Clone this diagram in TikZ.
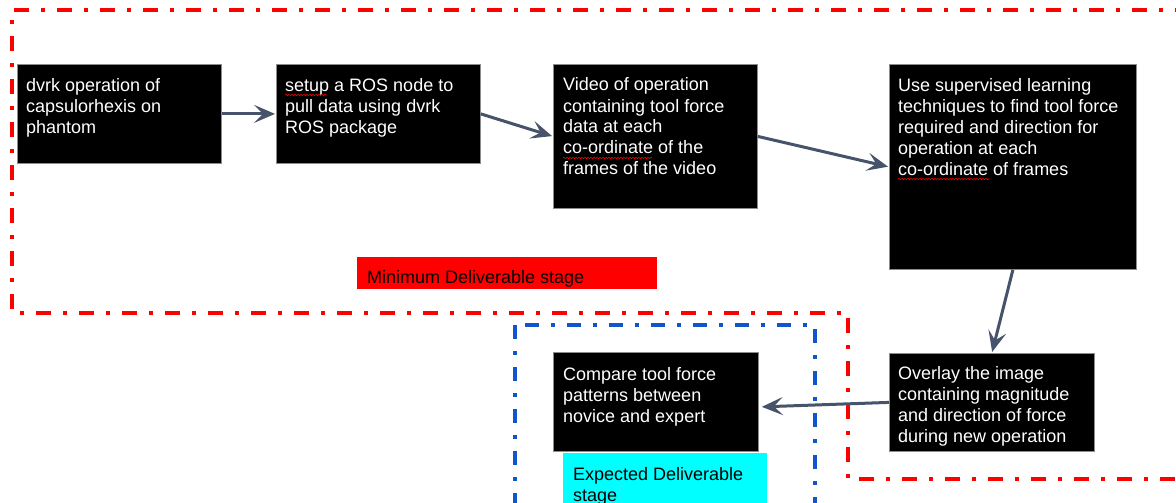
\documentclass[tikz,border=0pt]{standalone}
\usepackage{fontspec}
\setmainfont{Liberation Sans}
\usetikzlibrary{arrows.meta,decorations.pathmorphing}
\definecolor{arrowc}{HTML}{46536B}
\definecolor{blueb}{HTML}{1155CC}
\definecolor{redb}{HTML}{FF0000}
\definecolor{cyanb}{HTML}{00FFFF}
\newcommand\toplines[1]{\begin{tabular}[t]{@{}l@{}}#1\end{tabular}}
\begin{document}
\begin{tikzpicture}[x=1pt,y=-1pt,
  box/.style={draw=black!45, line width=0.8pt, fill=black, inner sep=0pt, anchor=north west},
  txt/.style={text=white, font=\fontsize{18}{21}\selectfont, inner sep=0pt, anchor=base west},
  lbltxt/.style={text=black, font=\fontsize{18}{21}\selectfont, inner sep=0pt, anchor=base west},
  arr/.style={draw=arrowc, line width=3pt, shorten >=1pt, -{Stealth[length=21pt,width=18pt,inset=9pt]}},
  redframe/.style={draw=redb, line width=4pt, dash pattern=on 15pt off 12pt on 4pt off 12pt},
  blueframe/.style={draw=blueb, line width=3.5pt, dash pattern=on 14pt off 12pt on 4pt off 12pt},
  spell/.style={draw=redb, line width=0.6pt, decorate, decoration={snake, amplitude=0.7pt, segment length=3pt}}
]
\clip (0,0) rectangle (1176,503);
\fill[white] (0,0) rectangle (1176,503);

% frames
\draw[redframe] (1190,10) -- (12,10) -- (12,313) -- (848,313) -- (848,479) -- (1190,479);
\draw[blueframe] (515,325) rectangle (815,520);

% boxes
\node[box, minimum width=204pt, minimum height=99pt] (b1) at (17,64) {};
\node[box, minimum width=204pt, minimum height=99pt] (b2) at (276,64) {};
\node[box, minimum width=204pt, minimum height=144pt] (b3) at (553,64) {};
\node[box, minimum width=247pt, minimum height=205pt] (b4) at (889,64) {};
\node[box, minimum width=205pt, minimum height=98pt] (b5) at (889,353) {};
\node[box, minimum width=205pt, minimum height=99pt] (b6) at (553,352) {};

% labels
\node[draw=none, fill=redb, inner sep=0pt, anchor=north west, minimum width=300pt, minimum height=32pt] (lmin) at (357,257) {};
\node[draw=none, fill=cyanb, inner sep=0pt, anchor=north west, minimum width=204pt, minimum height=60pt] (lexp) at (563,453) {};

% texts
\node[txt] (t1) at ([xshift=9pt,yshift=-28pt]b1.north west) {\toplines{dvrk operation of\\capsulorhexis on\\phantom}};
\node[txt] (t2) at ([xshift=9pt,yshift=-28pt]b2.north west) {\toplines{setup a ROS node to\\pull data using dvrk\\ROS package}};
\node[txt] (t3) at ([xshift=10pt,yshift=-27pt]b3.north west) {\toplines{Video of operation\\containing tool force\\data at each\\co-ordinate of the\\frames of the video}};
\node[txt] (t4) at ([xshift=9pt,yshift=-28pt]b4.north west) {\toplines{Use supervised learning\\techniques to find tool force\\required and direction for\\operation at each\\co-ordinate of frames}};
\node[txt] (t5) at ([xshift=9pt,yshift=-26pt]b5.north west) {\toplines{Overlay the image\\containing magnitude\\and direction of force\\during new operation}};
\node[txt] (t6) at ([xshift=10pt,yshift=-28pt]b6.north west) {\toplines{Compare tool force\\patterns between\\novice and expert}};
\node[lbltxt] (tmin) at ([xshift=10pt,yshift=-26pt]lmin.north west) {Minimum Deliverable stage};
\node[lbltxt] (texp) at ([xshift=10pt,yshift=-27pt]lexp.north west) {\toplines{Expected Deliverable\\stage}};

% spell-check underlines
\path[spell] (285,95) -- (327,95);
\path[spell] (563,158) -- (652,158);
\path[spell] (898,179) -- (989,179);

% connectors
\draw[arr] (b1.east) -- (b2.west);
\draw[arr] (b2.east) -- (b3.west);
\draw[arr] (b3.east) -- (b4.west);
\draw[arr] (b4.south) -- (b5.north);
\draw[arr] (b5.west) -- ([yshift=-5pt,xshift=2pt]b6.east);
\end{tikzpicture}
\end{document}
